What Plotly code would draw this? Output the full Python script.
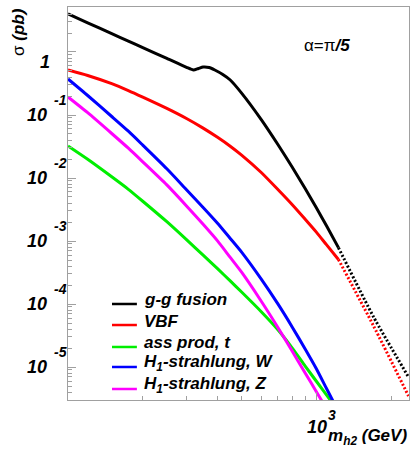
import plotly.graph_objects as go
import numpy as np

# ---------------- data ----------------
series_names = ["g-g fusion", "VBF", "ass prod, t",
                "H<sub>1</sub>-strahlung, W", "H<sub>1</sub>-strahlung, Z"]
series_colors = ["#000000", "#ff0000", "#00ee00", "#0000ff", "#ff00ff"]

ggf_mass = [100, 120, 150, 175, 200, 250, 300, 320, 335, 350, 370, 390, 420, 450, 500,
            600, 700, 800, 900, 1000, 1100, 1227]
ggf_sigma = [4.011, 2.908, 1.952, 1.489, 1.174, 0.7915, 0.5717, 0.5179, 0.5470, 0.5779,
             0.5675, 0.5179, 0.4394, 0.3594, 0.2226, 0.08453, 0.03402, 0.01478, 0.006864,
             0.003378, 0.001730, 7.856e-4]
ggf_ext_mass = [1227, 1700, 2350]
ggf_ext_sigma = [7.856e-4, 6.22e-5, 6.94e-6]

vbf_mass = [100, 120, 150, 175, 200, 250, 300, 350, 400, 450, 500, 600, 700, 800, 900,
            1000, 1100, 1227]
vbf_sigma = [0.5179, 0.4236, 0.3139, 0.2439, 0.1923, 0.1273, 0.0880, 0.06196, 0.04426,
             0.03198, 0.02309, 0.01223, 0.006569, 0.003769, 0.002235, 0.001385, 8.67e-4,
             5.10e-4]
vbf_ext_mass = [1227, 1700, 2350]
vbf_ext_sigma = [5.10e-4, 4.48e-5, 3.47e-6]

tt_mass = [100, 120, 150, 175, 200, 250, 300, 350, 400, 450, 500, 600, 700, 800, 900,
           1000, 1100, 1200]
tt_sigma = [0.03221, 0.01981, 0.01045, 0.006616, 0.004282, 0.002025, 0.001052, 5.973e-4,
            3.646e-4, 2.326e-4, 1.550e-4, 7.547e-5, 3.908e-5, 2.002e-5, 1.045e-5, 5.95e-6,
            3.58e-6, 2.26e-6]

hw_mass = [100, 120, 150, 175, 200, 250, 300, 350, 400, 450, 500, 600, 700, 800, 900,
           1000, 1100, 1200]
hw_sigma = [0.3728, 0.2039, 0.09467, 0.05533, 0.03327, 0.01400, 0.006520, 0.003414,
            0.001917, 0.001100, 6.665e-4, 2.484e-4, 1.004e-4, 4.298e-5, 1.952e-5, 9.40e-6,
            4.52e-6, 2.33e-6]

hz_mass = [100, 120, 150, 175, 200, 250, 300, 350, 400, 450, 500, 600, 700, 800, 900,
           1000, 1100]
hz_sigma = [0.1931, 0.1088, 0.05086, 0.02972, 0.01807, 0.007771, 0.003607, 0.001841,
            0.001004, 5.490e-4, 3.198e-4, 1.108e-4, 4.252e-5, 1.775e-5, 8.15e-6, 4.07e-6,
            2.16e-6]

y_decades = [-5, -4, -3, -2, -1]
x_tick_label = "10"
x_tick_exp = "3"

# ---------------- figure ----------------
FONT = "Liberation Sans"
fig = go.Figure()

solid = [(ggf_mass, ggf_sigma), (vbf_mass, vbf_sigma), (tt_mass, tt_sigma),
         (hw_mass, hw_sigma), (hz_mass, hz_sigma)]
for (m, s), name, col in zip(solid, series_names, series_colors):
    fig.add_trace(go.Scatter(x=m, y=s, mode="lines", name=name, showlegend=False,
                             line=dict(color=col, width=3, shape="spline", smoothing=0.6)))

for (m, s), col in [((ggf_ext_mass, ggf_ext_sigma), series_colors[0]),
                    ((vbf_ext_mass, vbf_ext_sigma), series_colors[1])]:
    fig.add_trace(go.Scatter(x=m, y=s, mode="lines", showlegend=False,
                             line=dict(color=col, width=3, dash="2px,2px",
                                       shape="spline", smoothing=0.6)))

# minor ticks
x_minor = [k * 100 for k in range(2, 10)] + [2000]
y_minor = []
for d in range(-6, 1):
    for k in range(2, 10):
        y_minor.append(k * 10.0 ** d)

axcol = "#a0a0a0"
fig.update_xaxes(type="log", range=[2, 3.373], showgrid=False, zeroline=False,
                 showline=True, linecolor=axcol, linewidth=1, mirror=True,
                 ticks="inside", tickvals=[1000], ticklen=8, tickcolor=axcol,
                 showticklabels=False,
                 minor=dict(tickvals=x_minor, ticks="inside", ticklen=4, tickcolor=axcol))
fig.update_yaxes(type="log", range=[np.log10(3.0e-6), 0.714], showgrid=False, zeroline=False,
                 showline=True, linecolor=axcol, linewidth=1, mirror=True,
                 ticks="inside", tickvals=[10.0 ** d for d in range(-5, 1)], ticklen=8,
                 tickcolor=axcol, showticklabels=False,
                 minor=dict(tickvals=y_minor, ticks="inside", ticklen=4, tickcolor=axcol))

ann = []
# y tick labels
for d in y_decades:
    ann.append(dict(x=0, xref="paper", y=d, yref="y", text="<b><i>10</i></b>",
                    xanchor="right", yanchor="middle", xshift=-19, showarrow=False,
                    font=dict(family=FONT, size=18, color="black")))
    ann.append(dict(x=0, xref="paper", y=d, yref="y", text="<b><i>%d</i></b>" % d,
                    xanchor="left", yanchor="middle", xshift=-16, yshift=15, showarrow=False,
                    font=dict(family=FONT, size=14, color="black")))
ann.append(dict(x=0, xref="paper", y=0, yref="y", text="<b><i>1</i></b>",
                xanchor="right", yanchor="middle", xshift=-16, yshift=-10, showarrow=False,
                font=dict(family=FONT, size=18, color="black")))
# x tick label
ann.append(dict(x=3, xref="x", y=0, yref="paper", text="<b><i>%s</i></b>" % x_tick_label,
                xanchor="center", yanchor="middle", xshift=1, yshift=-27, showarrow=False,
                font=dict(family=FONT, size=18, color="black")))
ann.append(dict(x=3, xref="x", y=0, yref="paper", text="<b><i>%s</i></b>" % x_tick_exp,
                xanchor="center", yanchor="middle", xshift=16, yshift=-15, showarrow=False,
                font=dict(family=FONT, size=14, color="black")))
# axis titles
ann.append(dict(x=1, xref="paper", y=0, yref="paper",
                text="<b><i>m<sub>h2</sub> (GeV)</i></b>",
                xanchor="right", yanchor="middle", xshift=0, yshift=-37, showarrow=False,
                font=dict(family=FONT, size=17, color="black")))
ann.append(dict(x=0, xref="paper", y=1, yref="paper", text="σ <b><i>(pb)</i></b>",
                textangle=-90, xanchor="center", yanchor="middle", xshift=-50, yshift=-25,
                showarrow=False, font=dict(family=FONT, size=17, color="black")))
# alpha label
ann.append(dict(x=0.7595, xref="paper", y=0.9008, yref="paper", text="α=π<b><i>/5</i></b>",
                xanchor="center", yanchor="middle", showarrow=False,
                font=dict(family=FONT, size=17, color="black")))

# legend (manual)
leg_rows_y = [0.2443, 0.1908, 0.1349, 0.0840, 0.0280]
shapes = []
for name, col, yy in zip(series_names, series_colors, leg_rows_y):
    shapes.append(dict(type="line", xref="paper", yref="paper", x0=0.129, x1=0.202,
                       y0=yy, y1=yy, line=dict(color=col, width=2.5)))
    ann.append(dict(x=0.218, xref="paper", y=yy, yref="paper", text="<b><i>%s</i></b>" % name,
                    xanchor="left", yanchor="middle", yshift=4, showarrow=False,
                    font=dict(family=FONT, size=17, color="black")))

fig.update_layout(width=411, height=450, margin=dict(l=68, r=2, t=7, b=50),
                  plot_bgcolor="white", paper_bgcolor="white",
                  annotations=ann, shapes=shapes, showlegend=False,
                  font=dict(family=FONT, color="black"))

fig.write_html("out.html")
